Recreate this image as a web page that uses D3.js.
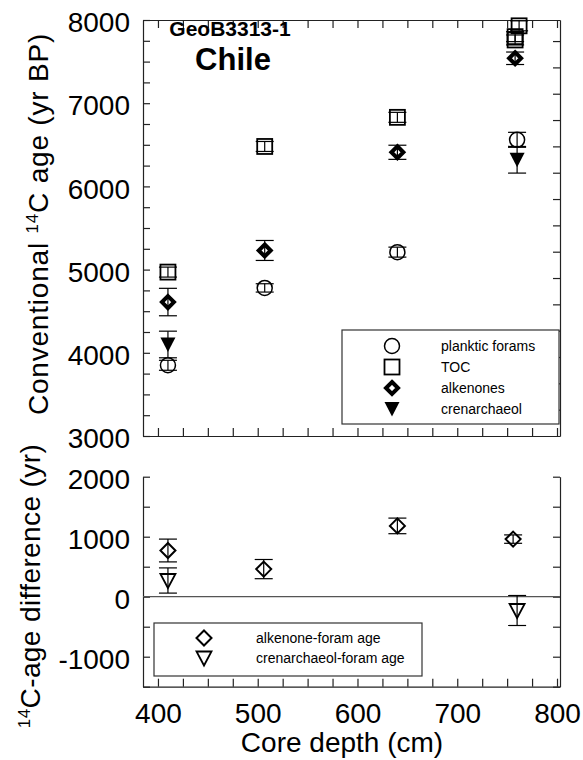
<!DOCTYPE html>
<html>
<head>
<meta charset="utf-8">
<script src="https://cdn.jsdelivr.net/npm/d3@7"></script>
<style>
body { margin: 0; background: #fff; }
text { font-family: "Liberation Sans", Arial, sans-serif; fill: #000; }
</style>
</head>
<body>
<svg id="chart" width="583" height="760"></svg>
<script>
// Core depth (cm) and conventional 14C ages (yr BP) with errors
const foramDepth = [410, 507, 640, 760];
const foramAge = [3850, 4780, 5210, 6560];
const foramErr = [60, 50, 60, 90];

const tocDepth = [410, 507, 640, 762, 758, 758];
const tocAge = [4970, 6480, 6830, 7930, 7800, 7760];
const tocErr = [60, 60, 60, 60, 60, 60];

const alkDepth = [410, 507, 640, 758];
const alkAge = [4610, 5230, 6410, 7540];
const alkErr = [165, 120, 85, 75];

const crenDepth = [410, 760];
const crenAge = [4100, 6320];
const crenErr = [160, 160];

// Age differences relative to planktic forams (yr)
const alkDiffDepth = [410, 506, 640, 756];
const alkDiff = [770, 460, 1180, 960];
const alkDiffErr = [190, 160, 130, 70];

const crenDiffDepth = [410, 760];
const crenDiff = [270, -230];
const crenDiffErr = [210, 250];

const topLegend = ["planktic forams", "TOC", "alkenones", "crenarchaeol"];
const topLegendSymbols = ["circle", "square", "diamondFilled", "triangleFilled"];
const bottomLegend = ["alkenone-foram age", "crenarchaeol-foram age"];
const bottomLegendSymbols = ["diamondOpen", "triangleOpen"];

const svg = d3.select("#chart");

// Scales
const x = d3.scaleLinear().domain([385, 803]).range([143, 560]);
const yTop = d3.scaleLinear().domain([3000, 8000]).range([436, 20]);
const yTopRight = d3.scaleLinear().domain([0, 15.8]).range([436, 20]);
const yBot = d3.scaleLinear().domain([-1500, 2000]).range([686.7, 476.7]);

const xTicks = d3.range(400, 801, 25);

function styleAxis(g, size) {
    g.selectAll("path, line").attr("stroke", "#222").attr("stroke-width", 1.2);
    g.selectAll("text").style("font-size", size + "px").style("font-family", "Liberation Sans, Arial, sans-serif").attr("fill", "#000");
}

// Top panel frame & ticks
svg.append("g")
    .attr("transform", `translate(${x.range()[0]},0)`)
    .call(d3.axisLeft(yTop).tickValues(d3.range(3000, 8001, 250))
        .tickSizeInner(-7).tickSizeOuter(0).tickPadding(13)
        .tickFormat(d => d % 1000 === 0 ? d : ""))
    .call(g => styleAxis(g, 28))
    .call(g => g.selectAll("text").attr("dy", "0.42em"));

svg.append("g")
    .attr("transform", `translate(${x.range()[1]},0)`)
    .call(d3.axisRight(yTopRight).tickValues(d3.range(1, 16))
        .tickSizeInner(-7).tickSizeOuter(0).tickFormat(""))
    .call(g => styleAxis(g, 28));

svg.append("g")
    .attr("transform", `translate(0,${yTop.range()[1]})`)
    .call(d3.axisTop(x).tickValues(xTicks).tickSizeInner(-8).tickSizeOuter(0).tickFormat(""))
    .call(g => styleAxis(g, 28));

svg.append("g")
    .attr("transform", `translate(0,${yTop.range()[0]})`)
    .call(d3.axisBottom(x).tickValues(xTicks).tickSizeInner(-8).tickSizeOuter(0).tickFormat(""))
    .call(g => styleAxis(g, 28));

// Bottom panel frame & ticks
svg.append("g")
    .attr("transform", `translate(${x.range()[0]},0)`)
    .call(d3.axisLeft(yBot).tickValues(d3.range(-1500, 2001, 500))
        .tickSizeInner(-7).tickSizeOuter(0).tickPadding(13)
        .tickFormat(d => d % 1000 === 0 ? d : ""))
    .call(g => styleAxis(g, 28))
    .call(g => g.selectAll("text").attr("dy", "0.42em"));

svg.append("g")
    .attr("transform", `translate(${x.range()[1]},0)`)
    .call(d3.axisRight(yBot).tickValues(d3.range(-1500, 2001, 500))
        .tickSizeInner(-7).tickSizeOuter(0).tickFormat(""))
    .call(g => styleAxis(g, 28));

svg.append("g")
    .attr("transform", `translate(0,${yBot.range()[0]})`)
    .call(d3.axisBottom(x).tickValues(xTicks).tickSizeInner(-8).tickSizeOuter(0).tickPadding(16)
        .tickFormat(d => d % 100 === 0 ? d : ""))
    .call(g => styleAxis(g, 28));

// zero line
svg.append("line")
    .attr("x1", x.range()[0]).attr("x2", x.range()[1])
    .attr("y1", yBot(0)).attr("y2", yBot(0))
    .attr("stroke", "#555").attr("stroke-width", 1.2);

// Markers
function marker(g, type, cx, cy) {
    if (type === "circle") {
        g.append("circle").attr("cx", cx).attr("cy", cy).attr("r", 7.5)
            .attr("fill", "none").attr("stroke", "#000").attr("stroke-width", 1.5);
    } else if (type === "square") {
        g.append("rect").attr("x", cx - 7.5).attr("y", cy - 7.5).attr("width", 15).attr("height", 15)
            .attr("fill", "none").attr("stroke", "#000").attr("stroke-width", 1.8);
    } else if (type === "diamondFilled") {
        const h = 6;
        g.append("path").attr("d", `M${cx},${cy - h}L${cx + h},${cy}L${cx},${cy + h}L${cx - h},${cy}Z`)
            .attr("fill", "#fff").attr("stroke", "#000").attr("stroke-width", 4);
    } else if (type === "triangleFilled") {
        g.append("path").attr("d", `M${cx - 7.5},${cy - 7}L${cx + 7.5},${cy - 7}L${cx},${cy + 7.5}Z`)
            .attr("fill", "#000");
    } else if (type === "diamondOpen") {
        const h = 7.5;
        g.append("path").attr("d", `M${cx},${cy - h}L${cx + h},${cy}L${cx},${cy + h}L${cx - h},${cy}Z`)
            .attr("fill", "none").attr("stroke", "#000").attr("stroke-width", 2);
    } else if (type === "triangleOpen") {
        g.append("path").attr("d", `M${cx - 7.5},${cy - 6.5}L${cx + 7.5},${cy - 6.5}L${cx},${cy + 7.5}Z`)
            .attr("fill", "none").attr("stroke", "#000").attr("stroke-width", 1.8);
    }
}

function errorBar(g, cx, y1, y2) {
    g.append("line").attr("x1", cx).attr("x2", cx).attr("y1", y1).attr("y2", y2);
    g.append("line").attr("x1", cx - 9).attr("x2", cx + 9).attr("y1", y1).attr("y2", y1);
    g.append("line").attr("x1", cx - 9).attr("x2", cx + 9).attr("y1", y2).attr("y2", y2);
}

function drawSeries(depths, vals, errs, yScale, type) {
    const g = svg.append("g");
    const bars = svg.append("g").attr("stroke", "#000").attr("stroke-width", 1.2);
    depths.forEach((d, i) => {
        marker(g, type, x(d), yScale(vals[i]));
        errorBar(bars, x(d), yScale(vals[i] - errs[i]), yScale(vals[i] + errs[i]));
    });
}

drawSeries(foramDepth, foramAge, foramErr, yTop, "circle");
drawSeries(tocDepth, tocAge, tocErr, yTop, "square");
drawSeries(alkDepth, alkAge, alkErr, yTop, "diamondFilled");
drawSeries(crenDepth, crenAge, crenErr, yTop, "triangleFilled");

drawSeries(alkDiffDepth, alkDiff, alkDiffErr, yBot, "diamondOpen");
drawSeries(crenDiffDepth, crenDiff, crenDiffErr, yBot, "triangleOpen");

// Legends
const leg1 = svg.append("g");
leg1.append("rect").attr("x", 342).attr("y", 330).attr("width", 217).attr("height", 94)
    .attr("fill", "#fff").attr("stroke", "#333").attr("stroke-width", 1.2);
topLegend.forEach((t, i) => {
    const cy = 346 + i * 21;
    marker(leg1, topLegendSymbols[i], 392, cy);
    leg1.append("text").attr("x", 441).attr("y", cy).attr("dy", "0.35em")
        .style("font-size", "14px").text(t);
});

const leg2 = svg.append("g");
leg2.append("rect").attr("x", 154).attr("y", 623).attr("width", 268).attr("height", 53)
    .attr("fill", "#fff").attr("stroke", "#333").attr("stroke-width", 1.2);
bottomLegend.forEach((t, i) => {
    const cy = 638 + i * 20;
    marker(leg2, bottomLegendSymbols[i], 204, cy);
    leg2.append("text").attr("x", 256).attr("y", cy).attr("dy", "0.35em")
        .style("font-size", "14px").text(t);
});

// Site label
svg.append("text").attr("x", 230).attr("y", 36).attr("text-anchor", "middle")
    .style("font-size", "21px").style("font-weight", "bold").text("GeoB3313-1");
svg.append("text").attr("x", 233).attr("y", 70).attr("text-anchor", "middle")
    .style("font-size", "31px").style("font-weight", "bold").text("Chile");

// Axis titles
svg.append("text").attr("x", 342).attr("y", 752).attr("text-anchor", "middle")
    .style("font-size", "28px").text("Core depth (cm)");

const t1 = svg.append("text").attr("transform", "translate(48,224) rotate(-90)")
    .attr("text-anchor", "middle").style("font-size", "28px").style("letter-spacing", "0.8px");
t1.append("tspan").text("Conventional ");
t1.append("tspan").attr("dy", -10).style("font-size", "17px").text("14");
t1.append("tspan").attr("dy", 10).text("C age (yr BP)");

const t2 = svg.append("text").attr("transform", "translate(40,586) rotate(-90)")
    .attr("text-anchor", "middle").style("font-size", "28px").style("letter-spacing", "0.4px");
t2.append("tspan").attr("dy", -10).style("font-size", "17px").text("14");
t2.append("tspan").attr("dy", 10).text("C-age difference (yr)");
</script>
</body>
</html>
